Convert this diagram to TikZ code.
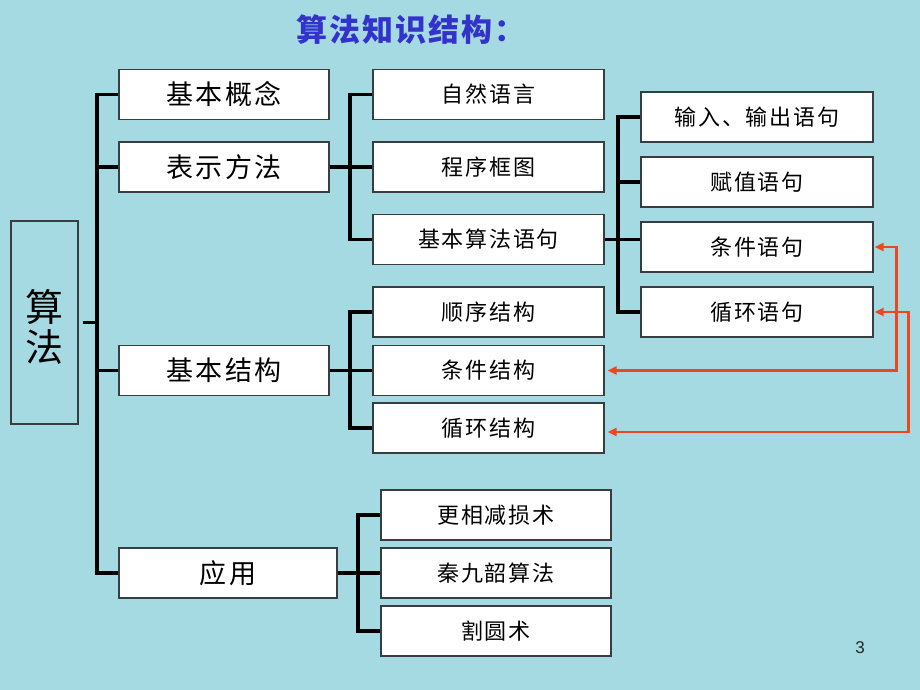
\documentclass[tikz,border=0pt]{standalone}
\usepackage{fontspec}
\usetikzlibrary{arrows.meta}
\newfontfamily\cjk[LetterSpace=8]{Noto Sans CJK SC}
\newfontfamily\cjkt[LetterSpace=6]{Noto Sans CJK SC}
\setmainfont{Liberation Sans}
\definecolor{bgc}{RGB}{166,218,227}
\definecolor{titleblue}{RGB}{51,51,204}
\definecolor{arrred}{RGB}{236,72,32}
\definecolor{boxline}{RGB}{55,62,66}
\begin{document}
\begin{tikzpicture}[x=1pt,y=-1pt,
  box/.style={draw=boxline,line width=1.1pt,fill=white,inner sep=0pt,
    minimum height=50pt},
  lvA/.style={box,minimum width=210pt,font=\cjk\fontsize{27}{30}\selectfont},
  lvB/.style={box,minimum width=231pt,font=\cjk\fontsize{22}{26}\selectfont},
  conn/.style={line width=3.2pt,draw=black},
  rarrow/.style={line width=2.6pt,draw=arrred,
    {Triangle[length=9pt,width=8pt]}-{Triangle[length=9pt,width=8pt]},
    shorten <=1pt, shorten >=3pt}]
\fill[bgc] (0,0) rectangle (920,690);
\useasboundingbox (0,0) rectangle (920,690);

% title
\node[font=\cjkt\bfseries\fontsize{31}{34}\selectfont,text=titleblue] (title) at (411,30) {算法知识结构：};

% root
\node[draw=boxline,line width=1.1pt,minimum width=67pt,minimum height=203pt,inner sep=0pt] (root) at (44.5,322.5) {};
\node[font=\cjkt\fontsize{38}{40}\selectfont,align=center] (rootlabel) at (44,327) {算\\法};

% level 1
\node[lvA] (gn) at (224,94.5) {基本概念};
\node[lvA] (bs) at (224,167) {表示方法};
\node[lvA] (jg) at (224,370.5) {基本结构};
\node[lvA,minimum width=218pt] (yy) at (228,573) {应用};

% level 2
\node[lvB] (zr) at (488.5,94.5) {自然语言};
\node[lvB] (cx) at (488.5,167) {程序框图};
\node[lvB] (yj) at (488.5,239.5) {基本算法语句};
\node[lvB] (sx) at (488.5,312) {顺序结构};
\node[lvB] (tj) at (488.5,370.5) {条件结构};
\node[lvB] (xh) at (488.5,428) {循环结构};
\node[lvB,minimum width=230pt] (gx) at (496,515) {更相减损术};
\node[lvB,minimum width=230pt] (qj) at (496,573) {秦九韶算法};
\node[lvB,minimum width=230pt] (gy) at (496,631) {割圆术};

% level 3
\node[lvB,minimum width=232pt] (sr) at (757,117) {输入、输出语句};
\node[lvB,minimum width=232pt] (fz) at (757,182) {赋值语句};
\node[lvB,minimum width=232pt] (tjy) at (757,247) {条件语句};
\node[lvB,minimum width=232pt] (xhy) at (757,312) {循环语句};

% page number
\node[font=\fontsize{17}{18}\selectfont,text=black!85] (pg) at (860,648) {3};

% trunk coordinates
\coordinate (T) at (97,0);
\coordinate (B) at (350,0);
\coordinate (C) at (358,0);
\coordinate (D) at (618,0);

% main trunk
\draw[conn] (gn.west) -- (gn.west -| T) -- (yy.west -| T) -- (yy.west);
\draw[conn] (bs.west) -- (bs.west -| T);
\draw[conn] (jg.west) -- (jg.west -| T);
\draw[conn] ([xshift=4pt]root.east) -- (root.east -| T);

% 表示方法 group
\draw[conn] (zr.west) -- (zr.west -| B) -- (yj.west -| B) -- (yj.west);
\draw[conn] (bs.east) -- (cx.west);

% 基本结构 group
\draw[conn] (sx.west) -- (sx.west -| B) -- (xh.west -| B) -- (xh.west);
\draw[conn] (jg.east) -- (tj.west);

% 应用 group
\draw[conn] (gx.west) -- (gx.west -| C) -- (gy.west -| C) -- (gy.west);
\draw[conn] (yy.east) -- (qj.west);

% 语句 group
\draw[conn] (sr.west) -- (sr.west -| D) -- (xhy.west -| D) -- (xhy.west);
\draw[conn] (fz.west) -- (fz.west -| D);
\draw[conn] (yj.east) -- (yj.east -| tjy.west);

% red arrows
\draw[rarrow] (tjy.east) -- ++(23,0) |- (tj.east);
\draw[rarrow] (xhy.east) -- ++(35,0) |- ([yshift=-4pt]xh.east);
\end{tikzpicture}
\end{document}
